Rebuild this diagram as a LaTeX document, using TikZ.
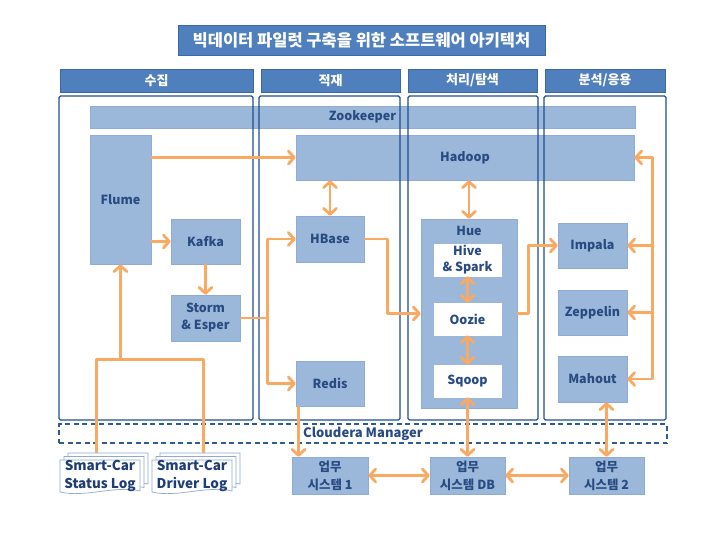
\documentclass[tikz,border=0pt]{standalone}
\usepackage{fontspec}
\setmainfont{Noto Sans CJK KR}
\usetikzlibrary{arrows.meta}
\definecolor{boxfill}{HTML}{9BB7DA}
\definecolor{boxline}{HTML}{8EACD4}
\definecolor{txtblue}{HTML}{284C82}
\definecolor{headfill}{HTML}{4F7FBD}
\definecolor{headline}{HTML}{3B67A3}
\definecolor{panelline}{HTML}{1F4E8E}
\definecolor{arrorange}{HTML}{F9A962}
\definecolor{dashblue}{HTML}{2E5C96}
\definecolor{logline}{HTML}{8FA9CF}
\definecolor{logtext}{HTML}{1F3D78}
\newcommand\lgpage[2]{%
  \begin{scope}[shift={(#1,#2)}]
    \filldraw[fill=white, draw=logline, line width=0.7pt]
      (0,0) -- (80,0) -- (80,31) .. controls (55,25) and (25,38) .. (0,32) -- cycle;
  \end{scope}}
\begin{document}
\begin{tikzpicture}[x=1pt,y=-1pt,
  barbtip/.tip={Straight Barb[length=6pt,width=13pt,round]},
  box/.style={fill=boxfill, draw=boxline, line width=0.6pt, inner sep=0pt,
    font=\fontsize{12.5}{17}\selectfont\bfseries, text=txtblue, align=center},
  wbox/.style={box, fill=white, draw=white},
  head/.style={fill=headfill, draw=headline, line width=0.8pt, inner sep=0pt,
    text=white, font=\fontsize{13}{15}\selectfont\bfseries, minimum height=23pt},
  panel/.style={draw=panelline, line width=1.3pt, rounded corners=1.5pt, inner sep=0pt, minimum height=324pt},
  ln/.style={draw=arrorange, line width=2.8pt, line join=round},
  arr/.style={ln, -barbtip},
  darr/.style={ln, barbtip-barbtip},
  logtxt/.style={inner sep=0pt, align=center, text=logtext, font=\fontsize{13.5}{18.5}\selectfont\bfseries}
]
\fill[white] (0,0) rectangle (720,540);
\useasboundingbox (0,0) rectangle (720,540);

% title
\node[fill=headfill, draw=headline, line width=0.8pt, inner sep=0pt, minimum width=367pt, minimum height=30pt,
  text=white, font=\fontsize{16.5}{19}\selectfont\bfseries] (title) at (361.5,40) {빅데이터 파일럿 구축을 위한 소프트웨어 아키텍처};

% headers
\node[head, minimum width=193pt] (h1) at (156.5,80.5) {수집};
\node[head, minimum width=139pt] (h2) at (330.5,80.5) {적재};
\node[head, minimum width=129pt] (h3) at (472.5,80.5) {처리/탐색};
\node[head, minimum width=120pt] (h4) at (605,80.5) {분석/응용};

% cloudera manager
\node[draw=dashblue, line width=1.2pt, dash pattern=on 5pt off 3.5pt, minimum width=608pt, minimum height=19pt, inner sep=0pt] (cm) at (363,433.5) {};
\node[anchor=west, inner sep=0pt, text=txtblue, font=\fontsize{13}{15}\selectfont\bfseries] (cmlbl) at (303,434) {Cloudera Manager};

% boxes
\node[box, minimum width=545pt, minimum height=22pt] (zk) at (362.5,117) {Zookeeper};
\node[box, minimum width=338pt, minimum height=45pt] (hadoop) at (465,157.5) {Hadoop};
\node[box, minimum width=61pt, minimum height=129pt] (flume) at (120.5,199.5) {Flume};
\node[box, minimum width=69pt, minimum height=45pt] (kafka) at (205.5,241.5) {Kafka};
\node[box, minimum width=69pt, minimum height=46pt] (storm) at (205.5,318) {Storm\\\& Esper};
\node[box, minimum width=68pt, minimum height=46pt] (hbase) at (330,239) {HBase};
\node[box, minimum width=68pt, minimum height=45pt] (redis) at (330,383.5) {Redis};
\node[box, minimum width=96pt, minimum height=189pt] (hue) at (469,313.5) {};
\node[box, fill=none, draw=none] (huelbl) at (469,231) {Hue};
\node[wbox, minimum width=67pt, minimum height=32pt, font=\fontsize{12.5}{16}\selectfont\bfseries] (hive) at (467.5,260) {Hive\\\& Spark};
\node[wbox, minimum width=67pt, minimum height=32pt] (oozie) at (467.5,319) {Oozie};
\node[wbox, minimum width=67pt, minimum height=32pt] (sqoop) at (467.5,381) {Sqoop};
\node[box, minimum width=69pt, minimum height=45pt] (impala) at (592.5,245.5) {Impala};
\node[box, minimum width=69pt, minimum height=45pt] (zeppelin) at (592.5,312.5) {Zeppelin};
\node[box, minimum width=69pt, minimum height=46pt] (mahout) at (592.5,379) {Mahout};
\node[box, minimum width=76pt, minimum height=37pt, font=\fontsize{12.5}{18}\selectfont\bfseries] (sys1) at (330,475.5) {업무\\시스템 1};
\node[box, minimum width=75pt, minimum height=37pt, font=\fontsize{12.5}{18}\selectfont\bfseries] (sysdb) at (467.5,475.5) {업무\\시스템 DB};
\node[box, minimum width=75pt, minimum height=37pt, font=\fontsize{12.5}{18}\selectfont\bfseries] (sys2) at (606.5,475.5) {업무\\시스템 2};

% panels (borders over boxes)
\node[panel, minimum width=194pt] (p1) at (156,258) {};
\node[panel, minimum width=141pt] (p2) at (329.5,258) {};
\node[panel, minimum width=130pt] (p3) at (473,258) {};
\node[panel, minimum width=122pt] (p4) at (605,258) {};

% logs
\lgpage{68}{453}\lgpage{64}{456.5}\lgpage{60}{460}
\lgpage{160}{453}\lgpage{156}{456.5}\lgpage{152}{460}
\node[logtxt] (log1) at (100,476) {Smart-Car\\Status Log};
\node[logtxt] (log2) at (192,476) {Smart-Car\\Driver Log};

% coordinates
\coordinate (l1top) at (96.5,453);
\coordinate (l2top) at (203.5,453);
\coordinate (lj1) at (96.5,359.5);
\coordinate (lj2) at (203.5,359.5);
\coordinate (sj) at (267.5,318);
\coordinate (hx) at (387.5,0);
\coordinate (ux) at (528.5,0);
\coordinate (bus) at (652.5,0);
\coordinate (rx) at (298.5,0);

% connectors
\draw[ln] (l1top) -- (lj1) -- (lj2) -- (l2top);
\draw[arr] (lj1 -| flume.south) -- (flume.south);
\draw[arr] (flume.east |- hadoop.west) -- (hadoop.west);
\draw[arr] (flume.east |- kafka.west) -- (kafka.west);
\draw[arr] (kafka.south) -- (storm.north);
\draw[ln] (storm.east) -- (sj);
\draw[arr] (sj) |- (hbase.west);
\draw[arr] (sj) |- (redis.west);
\draw[darr] (hbase.north) -- (hbase.north |- hadoop.south);
\draw[darr] (hue.north) -- (hue.north |- hadoop.south);
\draw[arr] (hbase.east) -| (hx |- hue.west) -- (hue.west);
\draw[darr] (hive.south) -- (oozie.north);
\draw[darr] (oozie.south) -- (sqoop.north);
\draw[arr] (hue.east) -- (ux |- hue.east) |- (impala.west);
\draw[arr] (bus |- mahout.east) |- (hadoop.east);
\draw[arr] (bus |- hadoop.east) |- (mahout.east);
\draw[arr] (bus |- impala.east) -- (impala.east);
\draw[arr] (bus |- zeppelin.east) -- (zeppelin.east);
\draw[darr] (sys2.north) -- (sys2.north |- mahout.south);
\draw[darr] (sysdb.north) -- (sysdb.north |- sqoop.south);
\draw[darr] (sys1.east) -- (sysdb.west);
\draw[darr] (sysdb.east) -- (sys2.west);
\draw[arr] (rx |- redis.south) -- (rx |- sys1.north);
\end{tikzpicture}
\end{document}
